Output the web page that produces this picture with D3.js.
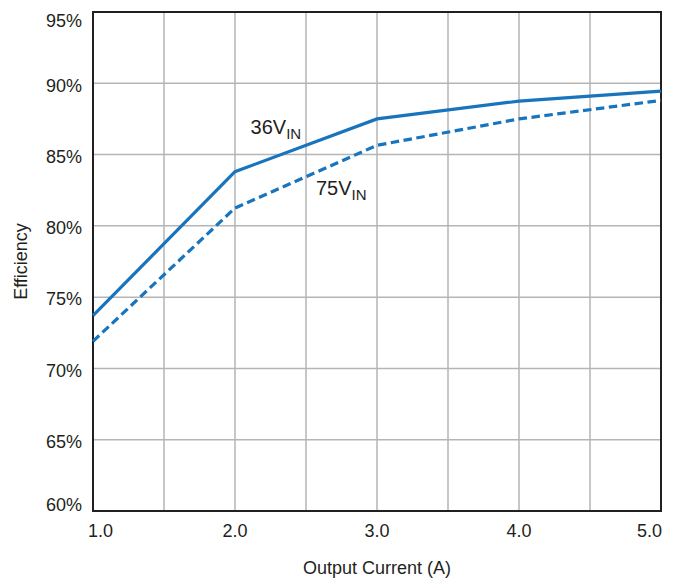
<!DOCTYPE html>
<html>
<head>
<meta charset="utf-8">
<script src="https://cdn.jsdelivr.net/npm/d3@7"></script>
<style>
    body { margin: 0; background: #fff; }
    text { font-family: "Liberation Sans", Arial, sans-serif; fill: #231f20; }
</style>
</head>
<body>
<svg id="chart"></svg>
<script>
// values
var current = [1.0, 2.0, 3.0, 4.0, 5.0];
var eff36 = [73.7, 83.8, 87.5, 88.75, 89.45];
var eff75 = [71.9, 81.25, 85.65, 87.5, 88.8];
var xTicks = [1.0, 2.0, 3.0, 4.0, 5.0];
var xGrid = [1.5, 2.0, 2.5, 3.0, 3.5, 4.0, 4.5];
var yTicks = [60, 65, 70, 75, 80, 85, 90, 95];

var dimensions = {
    width: 675,
    height: 578,
    margin: { top: 12, bottom: 67, right: 14, left: 93 }
};
var blue = "#1874bd";

var svg = d3.select("#chart")
    .attr("width", dimensions.width)
    .attr("height", dimensions.height);

var xScale = d3.scaleLinear()
    .domain([1, 5])
    .range([dimensions.margin.left, dimensions.width - dimensions.margin.right]);

var yScale = d3.scaleLinear()
    .domain([60, 95])
    .range([dimensions.height - dimensions.margin.bottom, dimensions.margin.top]);

// grid
svg.append("g")
    .selectAll("line")
    .data(xGrid)
    .enter()
    .append("line")
    .attr("x1", d => xScale(d))
    .attr("x2", d => xScale(d))
    .attr("y1", yScale(60))
    .attr("y2", yScale(95))
    .attr("stroke", "#b5b5b5")
    .attr("stroke-width", 1.5);

svg.append("g")
    .selectAll("line")
    .data(yTicks.slice(1, -1))
    .enter()
    .append("line")
    .attr("x1", xScale(1))
    .attr("x2", xScale(5))
    .attr("y1", d => yScale(d))
    .attr("y2", d => yScale(d))
    .attr("stroke", "#b5b5b5")
    .attr("stroke-width", 1.5);

// frame
svg.append("rect")
    .attr("x", xScale(1))
    .attr("y", yScale(95))
    .attr("width", xScale(5) - xScale(1))
    .attr("height", yScale(60) - yScale(95))
    .attr("fill", "none")
    .attr("stroke", "#231f20")
    .attr("stroke-width", 2);

// tick labels
svg.append("g")
    .selectAll("text")
    .data(yTicks)
    .enter()
    .append("text")
    .attr("x", xScale(1) - 11)
    .attr("y", d => d === 95 ? yScale(d) + 9 : d === 60 ? yScale(d) - 6 : yScale(d) + 2)
    .attr("dy", "0.35em")
    .attr("text-anchor", "end")
    .style("font-size", "18px")
    .text(d => d + "%");

svg.append("g")
    .selectAll("text")
    .data(xTicks)
    .enter()
    .append("text")
    .attr("x", (d, i) => i === 0 ? xScale(d) - 5 : i === xTicks.length - 1 ? xScale(d) + 1 : xScale(d))
    .attr("y", yScale(60) + 26)
    .attr("text-anchor", (d, i) => i === 0 ? "start" : i === xTicks.length - 1 ? "end" : "middle")
    .style("font-size", "18px")
    .text(d => d.toFixed(1));

// axis titles
svg.append("text")
    .attr("x", (xScale(1) + xScale(5)) / 2)
    .attr("y", 574)
    .attr("text-anchor", "middle")
    .style("font-size", "18px")
    .text("Output Current (A)");

svg.append("text")
    .attr("transform", `translate(27, ${(yScale(60) + yScale(95)) / 2}) rotate(-90)`)
    .attr("text-anchor", "middle")
    .style("font-size", "18px")
    .text("Efficiency");

// curves
var line = d3.line()
    .x((d, i) => xScale(current[i]))
    .y(d => yScale(d));

svg.append("path")
    .datum(eff36)
    .attr("d", line)
    .attr("fill", "none")
    .attr("stroke", blue)
    .attr("stroke-width", 3.2);

svg.append("path")
    .datum(eff75)
    .attr("d", line)
    .attr("fill", "none")
    .attr("stroke", blue)
    .attr("stroke-width", 3.2)
    .attr("stroke-dasharray", "8.5,4.5");

// series labels
function seriesLabel(x, y, main) {
    var t = svg.append("text")
        .attr("x", x)
        .attr("y", y)
        .style("font-family", "'Liberation Sans Narrow', 'Liberation Sans', sans-serif")
        .style("font-size", "20px");
    t.append("tspan").text(main);
    t.append("tspan")
        .attr("dy", 5)
        .style("font-size", "15px")
        .text("IN");
}
seriesLabel(xScale(2.11), yScale(86.45), "36V");
seriesLabel(xScale(2.57), yScale(82.17), "75V");
</script>
</body>
</html>
